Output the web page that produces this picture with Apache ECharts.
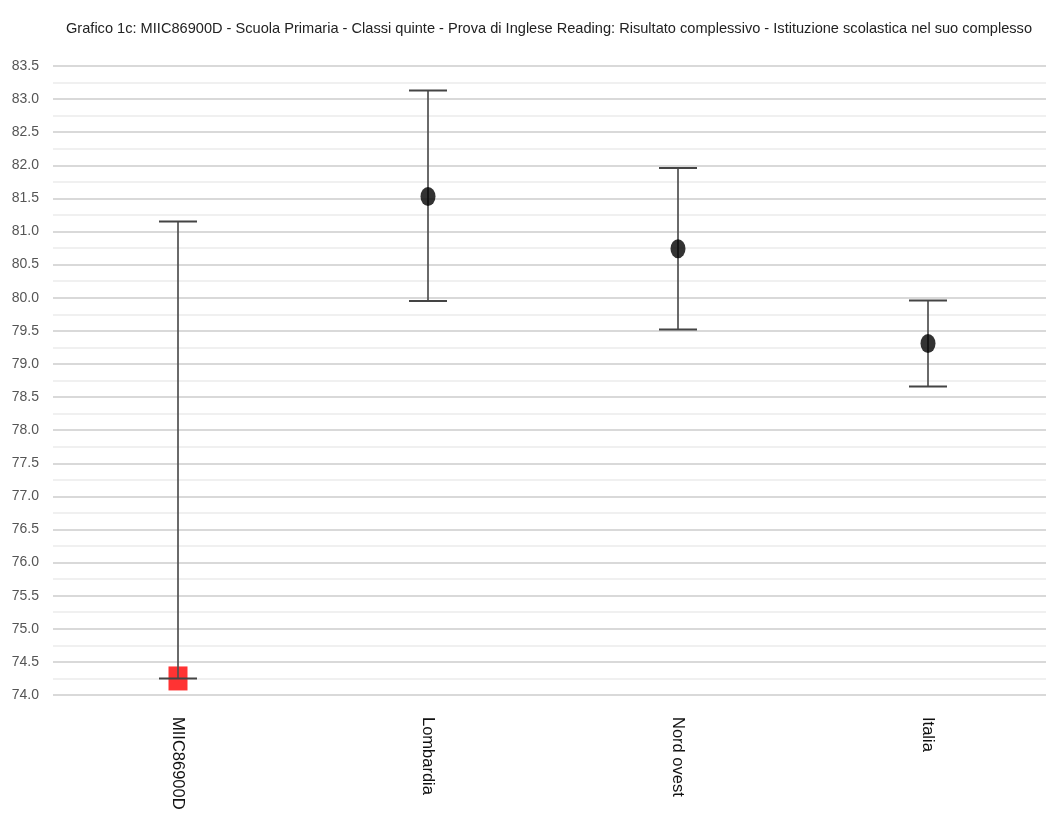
<!DOCTYPE html>
<html>
<head>
<meta charset="utf-8">
<script src="https://cdn.jsdelivr.net/npm/echarts@6/dist/echarts.min.js"></script>
<style>
html,body{margin:0;padding:0;background:#fff;}
#chart{width:1046px;height:816px;}
</style>
</head>
<body>
<div id="chart"></div>
<script>
const titleText = 'Grafico 1c: MIIC86900D - Scuola Primaria - Classi quinte - Prova di Inglese Reading: Risultato complessivo - Istituzione scolastica nel suo complesso';
const categories = ['MIIC86900D', 'Lombardia', 'Nord ovest', 'Italia'];
const means = [74.25, 81.53, 80.74, 79.31];
const lowerBounds = [74.25, 79.95, 79.52, 78.66];
const upperBounds = [81.15, 83.13, 81.96, 79.96];
const schoolIndex = 0;
const yMin = 74.0, yMax = 83.5, yStep = 0.5;

const fontFam = '"Liberation Sans", Arial, sans-serif';
const chart = echarts.init(document.getElementById('chart'));

// category bands are 250px wide; the last band runs past the right edge of the canvas
const gridLeft = 53, bandPx = 250, canvasW = 1046;
const xMin = -0.5;
const xMax = xMin + (canvasW - gridLeft) / bandPx;
const catIdx = categories.map((c, i) => i);

const errData = categories.map((c, i) => [i, lowerBounds[i], upperBounds[i]]);
const schoolPoints = catIdx.filter(i => i === schoolIndex).map(i => [i, means[i]]);
const refPoints = catIdx.filter(i => i !== schoolIndex).map(i => [i, means[i]]);

chart.setOption({
  animation: false,
  backgroundColor: '#ffffff',
  title: {
    text: titleText,
    left: 61, top: 16,
    textStyle: { fontFamily: fontFam, fontSize: 14.6, fontWeight: 'normal', color: '#222' }
  },
  grid: { left: gridLeft, right: 0, top: 66, bottom: 121, containLabel: false },
  xAxis: {
    type: 'value',
    min: xMin, max: xMax,
    axisLine: { show: false },
    axisTick: { show: false },
    splitLine: { show: false },
    axisLabel: {
      customValues: catIdx,
      formatter: v => categories[Math.round(v)] || '',
      rotate: -90, margin: 22, fontFamily: fontFam, fontSize: 16.5, color: '#111'
    }
  },
  yAxis: {
    type: 'value',
    min: yMin, max: yMax, interval: yStep,
    axisLine: { show: false },
    axisTick: { show: false },
    axisLabel: {
      margin: 14, fontFamily: fontFam, fontSize: 14, color: '#555',
      formatter: v => v.toFixed(1)
    },
    splitLine: { show: true, lineStyle: { color: '#cccccc', width: 1.5 } },
    minorTick: { show: false, splitNumber: 2 },
    minorSplitLine: { show: true, lineStyle: { color: '#ebebeb', width: 1.5 } }
  },
  series: [
    {
      type: 'scatter',
      data: schoolPoints,
      symbol: 'rect',
      symbolSize: [19, 24],
      itemStyle: { color: '#ff0000' },
      z: 2
    },
    {
      type: 'custom',
      z: 3,
      data: errData,
      renderItem: function (params, api) {
        const x = api.value(0);
        const lo = api.coord([x, api.value(1)]);
        const hi = api.coord([x, api.value(2)]);
        const hw = 19;
        return {
          type: 'group',
          children: [
            { type: 'line', shape: { x1: hi[0], y1: hi[1], x2: lo[0], y2: lo[1] },
              style: { stroke: 'rgba(80,80,80,0.85)', lineWidth: 2 } },
            { type: 'line', shape: { x1: hi[0] - hw, y1: hi[1], x2: hi[0] + hw, y2: hi[1] },
              style: { stroke: '#444', lineWidth: 2 } },
            { type: 'line', shape: { x1: lo[0] - hw, y1: lo[1], x2: lo[0] + hw, y2: lo[1] },
              style: { stroke: '#444', lineWidth: 2 } }
          ]
        };
      }
    },
    {
      type: 'scatter',
      data: refPoints,
      symbol: 'circle',
      symbolSize: [15, 19],
      itemStyle: { color: '#000000' },
      z: 4
    }
  ]
});
</script>
</body>
</html>
